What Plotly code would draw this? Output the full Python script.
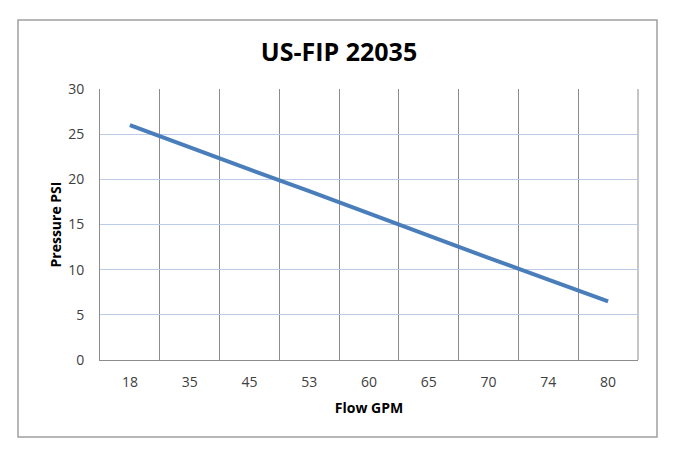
import plotly.graph_objects as go

flow_gpm = ["18", "35", "45", "53", "60", "65", "70", "74", "80"]
pressure_psi = [26, 23.5, 21.1, 18.7, 16.2, 13.8, 11.3, 8.9, 6.5]
y_ticks = [0, 5, 10, 15, 20, 25, 30]

L, R, T, B = 100, 42, 89, 96
W, H = 680, 456
pw, ph = W - L - R, H - T - B

fig = go.Figure()
fig.add_trace(go.Scatter(
    x=flow_gpm, y=pressure_psi, mode="lines",
    line=dict(color="#4a7ebb", width=4),
    showlegend=False, hoverinfo="x+y"))

font = "Open Sans, Lato, sans-serif"
fig.update_layout(
    width=W, height=H,
    margin=dict(l=L, r=R, t=T, b=B),
    paper_bgcolor="white", plot_bgcolor="white",
    font=dict(family=font, size=14, color="#404040"),
    title=dict(text="<b>US-FIP 22035</b>", x=339 / W, xanchor="center",
               y=1 - 52 / H, yanchor="middle",
               font=dict(family=font, size=25, color="black")),
    xaxis=dict(
        type="category", range=[-0.5, 8.5],
        tickson="boundaries", ticks="", showgrid=True,
        gridcolor="#8c8c8c", gridwidth=1,
        showline=True, linecolor="#8c8c8c", linewidth=1,
        ticklabelstandoff=9,
        tickfont=dict(size=14, color="#404040"),
        title=dict(text="<b>Flow GPM</b>", standoff=13,
                   font=dict(size=14, color="black")),
    ),
    yaxis=dict(
        range=[0, 30], tickvals=y_ticks, showgrid=True,
        gridcolor="#bccbe6", gridwidth=1,
        showline=True, linecolor="#8c8c8c", linewidth=1,
        ticks="", ticklabelstandoff=12,
        tickfont=dict(size=14, color="#404040"),
        zeroline=False,
        title=dict(text="<b>Pressure PSI</b>", standoff=3,
                   font=dict(size=14, color="black")),
    ),
)

fig.add_shape(type="line", xref="paper", yref="paper",
              x0=1, x1=1, y0=0, y1=1,
              line=dict(color="#8c8c8c", width=1), layer="below")

fig.add_shape(type="rect", xref="paper", yref="paper",
              x0=(18 - L) / pw, x1=(657 - L) / pw,
              y0=(H - B - 437) / ph, y1=(H - B - 20) / ph,
              line=dict(color="#a0a0a0", width=1.5), fillcolor="rgba(0,0,0,0)",
              layer="below")

fig.write_html("out.html", config={"displayModeBar": False},
               post_script="document.body.style.margin='0';document.body.style.overflow='hidden';")
